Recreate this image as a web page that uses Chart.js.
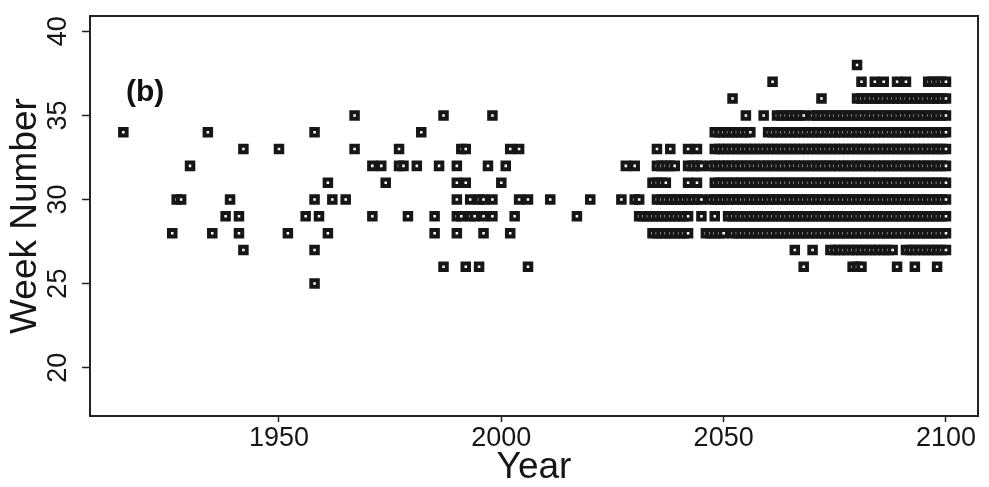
<!DOCTYPE html>
<html>
<head>
<meta charset="utf-8">
<script src="https://cdn.jsdelivr.net/npm/chart.js@4.4.0/dist/chart.umd.min.js"></script>
<style>
  html, body { margin: 0; padding: 0; background: #fff; }
  #wrap { width: 989px; height: 487px; position: relative; }
</style>
</head>
<body>
<div id="wrap"><canvas id="chart"></canvas></div>
<script>
// tick labels and panel label
const xTicks = [1950, 2000, 2050, 2100];
const yTicks = [20, 25, 30, 35, 40];
const panelLabel = "(b)";

// years in which each week number occurs
const w38 = [2080];
const w37 = [2061, 2081, 2084, 2086, 2089, 2091, 2096, 2097, 2098, 2099, 2100];
const w36 = [2052, 2072,
  2080, 2081, 2082, 2083, 2084, 2085, 2086, 2087, 2088, 2089, 2090,
  2091, 2092, 2093, 2094, 2095, 2096, 2097, 2098, 2099, 2100];
const w35 = [1967, 1987, 1998, 2055, 2059,
  2062, 2063, 2064, 2065, 2066, 2067, 2068,
  2070, 2071, 2072, 2073, 2074, 2075, 2076, 2077, 2078, 2079, 2080,
  2081, 2082, 2083, 2084, 2085, 2086, 2087, 2088, 2089, 2090,
  2091, 2092, 2093, 2094, 2095, 2096, 2097, 2098, 2099, 2100];
const w34 = [1915, 1934, 1958, 1982,
  2048, 2049, 2050, 2051, 2052, 2053, 2054, 2055, 2056,
  2060, 2061, 2062, 2063, 2064, 2065, 2066, 2067, 2068, 2069, 2070,
  2071, 2072, 2073, 2074, 2075, 2076, 2077, 2078, 2079, 2080,
  2081, 2082, 2083, 2084, 2085, 2086, 2087, 2088, 2089, 2090,
  2091, 2092, 2093, 2094, 2095, 2096, 2097, 2098, 2099, 2100];
const w33 = [1942, 1950, 1967, 1977, 1991, 1992, 2002, 2004, 2035, 2038, 2042, 2044,
  2048, 2049, 2050, 2051, 2052, 2053, 2054, 2055, 2056, 2057, 2058, 2059, 2060,
  2061, 2062, 2063, 2064, 2065, 2066, 2067, 2068, 2069, 2070,
  2071, 2072, 2073, 2074, 2075, 2076, 2077, 2078, 2079, 2080,
  2081, 2082, 2083, 2084, 2085, 2086, 2087, 2088, 2089, 2090,
  2091, 2092, 2093, 2094, 2095, 2096, 2097, 2098, 2099, 2100];
const w32 = [1930, 1971, 1973, 1977, 1978, 1981, 1986, 1990, 1997, 2001, 2028, 2030,
  2035, 2036, 2037, 2038, 2039, 2042, 2043, 2044, 2045,
  2047, 2048, 2049, 2050, 2051, 2052, 2053, 2054, 2055, 2056, 2057, 2058, 2059, 2060,
  2061, 2062, 2063, 2064, 2065, 2066, 2067, 2068, 2069, 2070,
  2071, 2072, 2073, 2074, 2075, 2076, 2077, 2078, 2079, 2080,
  2081, 2082, 2083, 2084, 2085, 2086, 2087, 2088, 2089, 2090,
  2091, 2092, 2093, 2094, 2095, 2096, 2097, 2098, 2099, 2100];
const w31 = [1961, 1974, 1990, 1992, 2000, 2034, 2035, 2036, 2037, 2042, 2044,
  2048, 2049, 2050, 2051, 2052, 2053, 2054, 2055, 2056, 2057, 2058, 2059, 2060,
  2061, 2062, 2063, 2064, 2065, 2066, 2067, 2068, 2069, 2070,
  2071, 2072, 2073, 2074, 2075, 2076, 2077, 2078, 2079, 2080,
  2081, 2082, 2083, 2084, 2085, 2086, 2087, 2088, 2089, 2090,
  2091, 2092, 2093, 2094, 2095, 2096, 2097, 2098, 2099, 2100];
const w30 = [1927, 1928, 1939, 1958, 1962, 1965, 1990, 1993, 1995, 1996, 1998,
  2004, 2006, 2011, 2020, 2027, 2030, 2031,
  2035, 2036, 2037, 2038, 2039, 2040, 2041, 2042, 2043, 2044, 2045,
  2047, 2048, 2049, 2050, 2051, 2052, 2053, 2054, 2055, 2056, 2057, 2058, 2059, 2060,
  2061, 2062, 2063, 2064, 2065, 2066, 2067, 2068, 2069, 2070,
  2071, 2072, 2073, 2074, 2075, 2076, 2077, 2078, 2079, 2080,
  2081, 2082, 2083, 2084, 2085, 2086, 2087, 2088, 2089, 2090,
  2091, 2092, 2093, 2094, 2095, 2096, 2097, 2098, 2099, 2100];
const w29 = [1938, 1941, 1956, 1959, 1971, 1979, 1985, 1990, 1991, 1993, 1994, 1996, 1998,
  2003, 2017,
  2031, 2032, 2033, 2034, 2035, 2036, 2037, 2038, 2039, 2040, 2041, 2042, 2045, 2048,
  2051, 2052, 2053, 2054, 2055, 2056, 2057, 2058, 2059, 2060,
  2061, 2062, 2063, 2064, 2065, 2066, 2067, 2068, 2069, 2070,
  2071, 2072, 2073, 2074, 2075, 2076, 2077, 2078, 2079, 2080,
  2081, 2082, 2083, 2084, 2085, 2086, 2087, 2088, 2089, 2090,
  2091, 2092, 2093, 2094, 2095, 2096, 2097, 2098, 2099, 2100];
const w28 = [1926, 1935, 1941, 1952, 1961, 1985, 1990, 1996, 2002,
  2034, 2035, 2036, 2037, 2038, 2039, 2040, 2041, 2042,
  2046, 2047, 2048, 2049, 2050,
  2052, 2053, 2054, 2055, 2056, 2057, 2058, 2059, 2060,
  2061, 2062, 2063, 2064, 2065, 2066, 2067, 2068, 2069, 2070,
  2071, 2072, 2073, 2074, 2075, 2076, 2077, 2078, 2079, 2080,
  2081, 2082, 2083, 2084, 2085, 2086, 2087, 2088, 2089, 2090,
  2091, 2092, 2093, 2094, 2095, 2096, 2097, 2098, 2099, 2100];
const w27 = [1942, 1958, 2066, 2070,
  2074, 2075, 2076, 2077, 2078, 2079, 2080, 2081, 2082, 2083, 2084, 2085, 2086, 2087, 2088,
  2091, 2092, 2093, 2094, 2095, 2096, 2097, 2098, 2099, 2100];
const w26 = [1987, 1992, 1995, 2006, 2068, 2079, 2080, 2081, 2089, 2093, 2098];
const w25 = [1958];

const weekNumbers = [38, 37, 36, 35, 34, 33, 32, 31, 30, 29, 28, 27, 26, 25];
const yearLists = [w38, w37, w36, w35, w34, w33, w32, w31, w30, w29, w28, w27, w26, w25];

// build the scatter points
let points = [];
weekNumbers.forEach((wk, i) => {
  yearLists[i].forEach(yr => {
    points.push({ x: yr, y: wk });
  });
});

const ink = "#161616";
const tickFont = { family: '"Liberation Sans Narrow", "Liberation Sans", Arial, sans-serif', size: 27 };
const titleFont = { family: '"Liberation Sans", Arial, sans-serif', size: 37 };

// frame round the plot area plus the panel letter
const framePlugin = {
  id: "frame",
  afterDraw(chart) {
    const ctx = chart.ctx;
    const a = chart.chartArea;
    ctx.save();
    ctx.strokeStyle = "#222";
    ctx.lineWidth = 2;
    ctx.strokeRect(a.left, a.top, a.right - a.left, a.bottom - a.top);
    ctx.fillStyle = "#111";
    ctx.font = 'bold 30px "Liberation Sans", Arial, sans-serif';
    ctx.textBaseline = "alphabetic";
    ctx.fillText(panelLabel, a.left + 36, a.top + 85);
    ctx.restore();
  }
};

// no extra room for the outer tick labels
function noPad(s) {
  s.paddingTop = 0;
  s.paddingBottom = 0;
  s.paddingLeft = 0;
  s.paddingRight = 0;
}

new Chart(document.getElementById("chart"), {
  type: "scatter",
  data: {
    datasets: [{
      data: points,
      pointStyle: "rect",
      pointRadius: 4.6,
      borderWidth: 4,
      borderColor: ink,
      backgroundColor: "#fff"
    }]
  },
  options: {
    responsive: true,
    maintainAspectRatio: false,
    animation: false,
    events: [],
    layout: { padding: { top: 16, right: 11, left: 0, bottom: 0 } },
    plugins: {
      legend: { display: false },
      tooltip: { enabled: false }
    },
    scales: {
      x: {
        type: "linear",
        min: 1907.5,
        max: 2107.2,
        afterBuildTicks: s => { s.ticks = xTicks.map(v => ({ value: v })); },
        afterFit: s => { s.height = 71; noPad(s); },
        border: { display: false },
        grid: { drawOnChartArea: false, drawTicks: true, tickLength: 6, tickWidth: 1.5, tickColor: "#222" },
        ticks: { font: tickFont, color: ink, padding: 0, maxRotation: 0, autoSkip: false, callback: v => String(v) },
        title: { display: true, text: "Year", font: titleFont, color: ink, padding: { top: 0, bottom: -3 } }
      },
      y: {
        type: "linear",
        position: "left",
        min: 17.13,
        max: 40.91,
        afterBuildTicks: s => { s.ticks = yTicks.map(v => ({ value: v })); },
        afterFit: s => { s.width = 90; noPad(s); },
        border: { display: false },
        grid: { drawOnChartArea: false, drawTicks: true, tickLength: 8, tickWidth: 1.5, tickColor: "#222" },
        ticks: { font: tickFont, color: ink, padding: 8, minRotation: 90, maxRotation: 90, crossAlign: "center", autoSkip: false, callback: v => String(v) },
        title: { display: true, text: "Week Number", font: titleFont, color: ink, padding: { top: 4, bottom: 0 } }
      }
    }
  },
  plugins: [framePlugin]
});
</script>
</body>
</html>
